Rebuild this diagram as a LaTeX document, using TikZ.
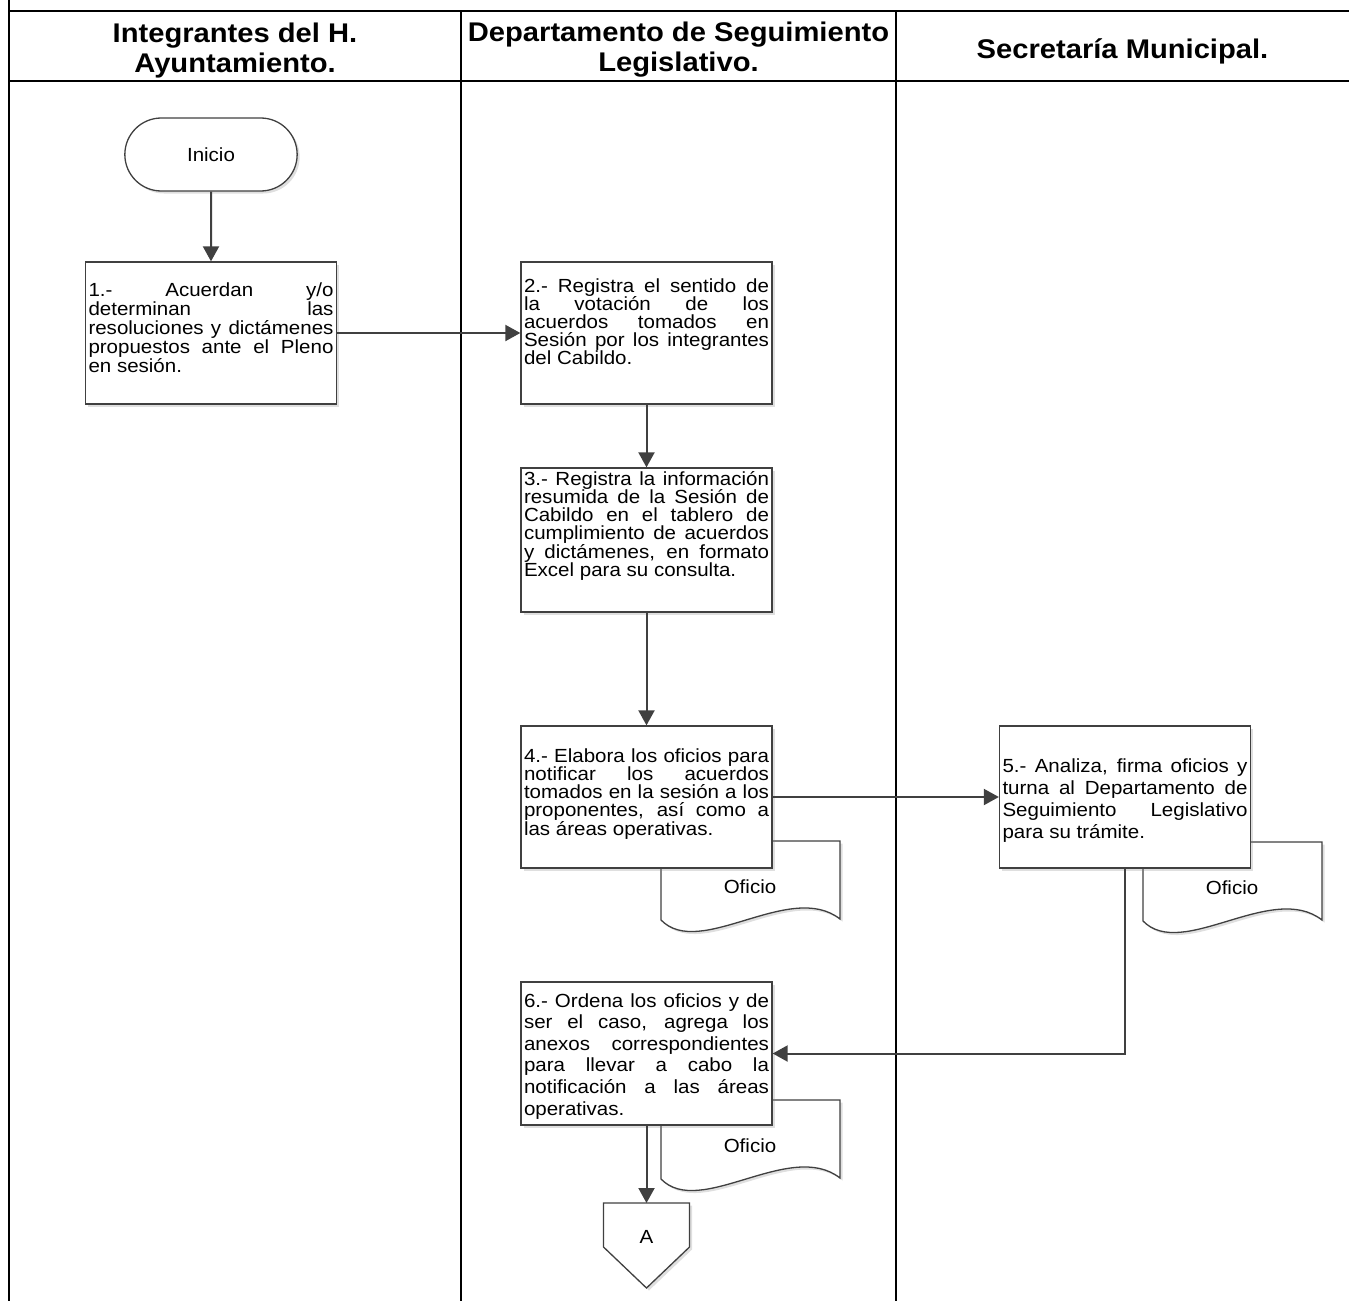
\documentclass[tikz,border=0pt]{standalone}
\usepackage{fontspec}
\setmainfont{Liberation Sans}[FakeStretch=1.08]
\usetikzlibrary{arrows.meta,shapes.misc,shadows}

\definecolor{linegray}{HTML}{404040}

\begin{document}
\begin{tikzpicture}[
        x=1pt, y=-1pt,
        lane/.style={line width=2pt, draw=black},
        lanehead/.style={
            align=center,
            inner sep=0pt,
            font=\fontsize{27pt}{30pt}\selectfont\bfseries
        },
        procbox/.style n args={3}{
            rectangle,
            draw=linegray,
            line width=1.3pt,
            fill=white,
            drop shadow={shadow xshift=2.5pt, shadow yshift=-2.5pt, opacity=0.25},
            inner xsep=3pt,
            inner ysep=0pt,
            text width=245pt,
            align=justify,
            text height=#1pt,
            text depth=#2pt,
            font={\fontsize{19pt}{#3pt}\selectfont\tolerance=10000\relax\hbadness=10000\relax}
        },
        terminal/.style={
            rounded rectangle,
            draw=linegray,
            line width=1.3pt,
            fill=white,
            drop shadow={shadow xshift=2.5pt, shadow yshift=-2.5pt, opacity=0.25},
            minimum width=179pt,
            minimum height=73pt,
            font=\fontsize{19pt}{22pt}\selectfont
        },
        docshape/.style={
            draw=linegray,
            line width=1.3pt,
            fill=white,
            drop shadow={shadow xshift=2.5pt, shadow yshift=-2.5pt, opacity=0.25}
        },
        doclabel/.style={inner sep=0pt, font=\fontsize{19pt}{22pt}\selectfont},
        offpage/.style={rectangle, minimum width=86pt, minimum height=44pt, inner sep=0pt, outer sep=0pt},
        flow/.style={-{Triangle[length=15pt, width=16pt]}, line width=2pt, draw=linegray},
        oficio/.pic={
            \path[docshape] (0,0) -- (179,0) -- (179,78) .. controls (129,39) and (39,119) .. (0,79) -- cycle;
            \node[doclabel] (-lbl) at (89,46) {Oficio};
        }
    ]
    \useasboundingbox (0,0) rectangle (1349,1301);

    % swimlane frame
    \draw[lane] (9,0) -- (9,1301);
    \draw[lane] (9,11) -- (1349,11);
    \draw[lane] (9,81) -- (1349,81);
    \draw[lane] (461,11) -- (461,1301);
    \draw[lane] (896,11) -- (896,1301);

    \node[lanehead] (hayto) at (235,51) {Integrantes del H.\\Ayuntamiento.};
    \node[lanehead] (hdsl) at (678.5,50) {Departamento de Seguimiento\\Legislativo.};
    \node[lanehead] (hsec) at (1122.5,51) {Secretaría Municipal.};

    % documents (behind the boxes)
    \pic (ofi4) at (661,841) {oficio};
    \pic (ofi5) at (1143,842) {oficio};
    \pic (ofi6) at (661,1100) {oficio};

    \node[terminal] (inicio) at (211,154.5) {Inicio};
    \node[procbox={34}{108}{19}] (b1) at (211,333) {1.- Acuerdan y/o\linebreak determinan las\linebreak resoluciones y dictámenes\linebreak propuestos ante el Pleno\linebreak en sesión.};
    \node[procbox={30}{112}{17.8}] (b2) at (646.5,333) {2.- Registra el sentido de\linebreak la votación de los\linebreak acuerdos tomados en\linebreak Sesión por los integrantes\linebreak del Cabildo.};
    \node[procbox={17}{127}{18.3}] (b3) at (646.5,540) {3.- Registra la información\linebreak resumida de la Sesión de\linebreak Cabildo en el tablero de\linebreak cumplimiento de acuerdos\linebreak y dictámenes, en formato\linebreak Excel para su consulta.};
    \node[procbox={36}{106}{18.3}] (b4) at (646.5,797) {4.- Elabora los oficios para\linebreak notificar los acuerdos\linebreak tomados en la sesión a los\linebreak proponentes, así como a\linebreak las áreas operativas.};
    \node[procbox={46}{96}{22}] (b5) at (1125,797) {5.- Analiza, firma oficios y\linebreak turna al Departamento de\linebreak Seguimiento Legislativo\linebreak para su trámite.};
    \node[procbox={25}{118}{21.6}] (b6) at (646.5,1053.5) {6.- Ordena los oficios y de\linebreak ser el caso, agrega los\linebreak anexos correspondientes\linebreak para llevar a cabo la\linebreak notificación a las áreas\linebreak operativas.};

    % off-page connector
    \node[offpage] (conA) at (646.5,1225) {};
    \path[docshape] (conA.north west) -- (conA.north east) -- (conA.south east) -- ([yshift=-41pt]conA.south) -- (conA.south west) -- cycle;
    \node[doclabel] (conA-lbl) at ([yshift=-12pt]conA.center) {A};

    \draw[flow] (inicio) -- (b1);
    \draw[flow] (b1) -- (b2);
    \draw[flow] (b2) -- (b3);
    \draw[flow] (b3) -- (b4);
    \draw[flow] (b4) -- (b5);
    \draw[flow] (b5.south) |- (b6.east);
    \draw[flow] (b6) -- (conA);
\end{tikzpicture}
\end{document}
